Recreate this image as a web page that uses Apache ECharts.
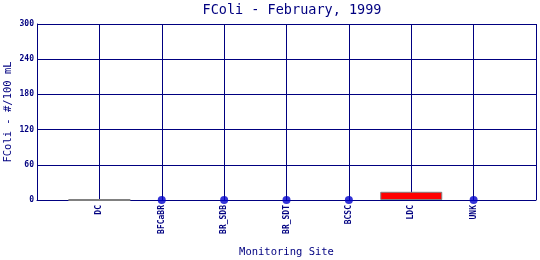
<!DOCTYPE html>
<html><head><meta charset="utf-8">
<script src="https://cdn.jsdelivr.net/npm/echarts@6/dist/echarts.min.js"></script>
<style>html,body{margin:0;padding:0;background:#fff}#c{width:540px;height:260px}</style>
</head><body><div id="c"></div>
<script>
const categories = ['', 'DC', 'BFCaBR', 'BR_SDB', 'BR_SDT', 'BCSC', 'LDC', 'UNK', ''];
const barValues = [null, 0, null, null, null, null, 14, null, null];
const pointValues = [null, null, 0, 0, 0, 0, null, 0, null];
const yTicks = [0, 60, 120, 180, 240, 300];

const navy = '#000080';
const font = 'DejaVu Sans Mono';
const chart = echarts.init(document.getElementById('c'));
chart.setOption({
  animation: false,
  backgroundColor: '#fff',
  title: {
    text: 'FColi - February, 1999',
    left: 287, top: -2, textAlign: 'center',
    textStyle: {color: navy, fontFamily: font, fontSize: 13.5, fontWeight: 'normal'}
  },
  grid: {left: 37, right: 4, top: 24, bottom: 60, containLabel: false, outerBoundsMode: 'none'},
  xAxis: {
    type: 'category', data: categories, boundaryGap: false,
    name: 'Monitoring Site', nameLocation: 'middle', nameGap: 47, nameMoveOverlap: false,
    nameTextStyle: {color: navy, fontFamily: font, fontSize: 10.5},
    axisLine: {lineStyle: {color: navy, width: 1}},
    axisTick: {show: false},
    axisLabel: {rotate: 90, interval: 0, color: navy, fontFamily: font, fontSize: 8, fontWeight: 'bold', margin: 5},
    splitLine: {show: true, interval: 0, lineStyle: {color: navy, width: 1}}
  },
  yAxis: {
    type: 'value', min: yTicks[0], max: yTicks[yTicks.length - 1], interval: 60,
    name: 'FColi - #/100 mL', nameLocation: 'middle', nameGap: 23, nameMoveOverlap: false,
    nameTextStyle: {color: navy, fontFamily: font, fontSize: 10.5},
    axisLine: {show: true, lineStyle: {color: navy, width: 1}},
    axisTick: {show: false},
    axisLabel: {color: navy, fontFamily: font, fontSize: 8, fontWeight: 'bold', margin: 3},
    splitLine: {show: true, lineStyle: {color: navy, width: 1}}
  },
  series: [
    {
      type: 'bar', data: barValues.map((v, i) => v === null ? null : {
        value: v,
        itemStyle: categories[i] === 'LDC'
          ? {color: '#ff0000', borderColor: '#808080', borderWidth: 1}
          : {color: '#808080', borderColor: '#808080', borderWidth: 2}
      }),
      barWidth: 62
    },
    {
      type: 'scatter', data: pointValues, symbol: 'circle', symbolSize: 8,
      itemStyle: {color: '#0000cc'}, z: 5
    }
  ]
});
</script></body></html>
